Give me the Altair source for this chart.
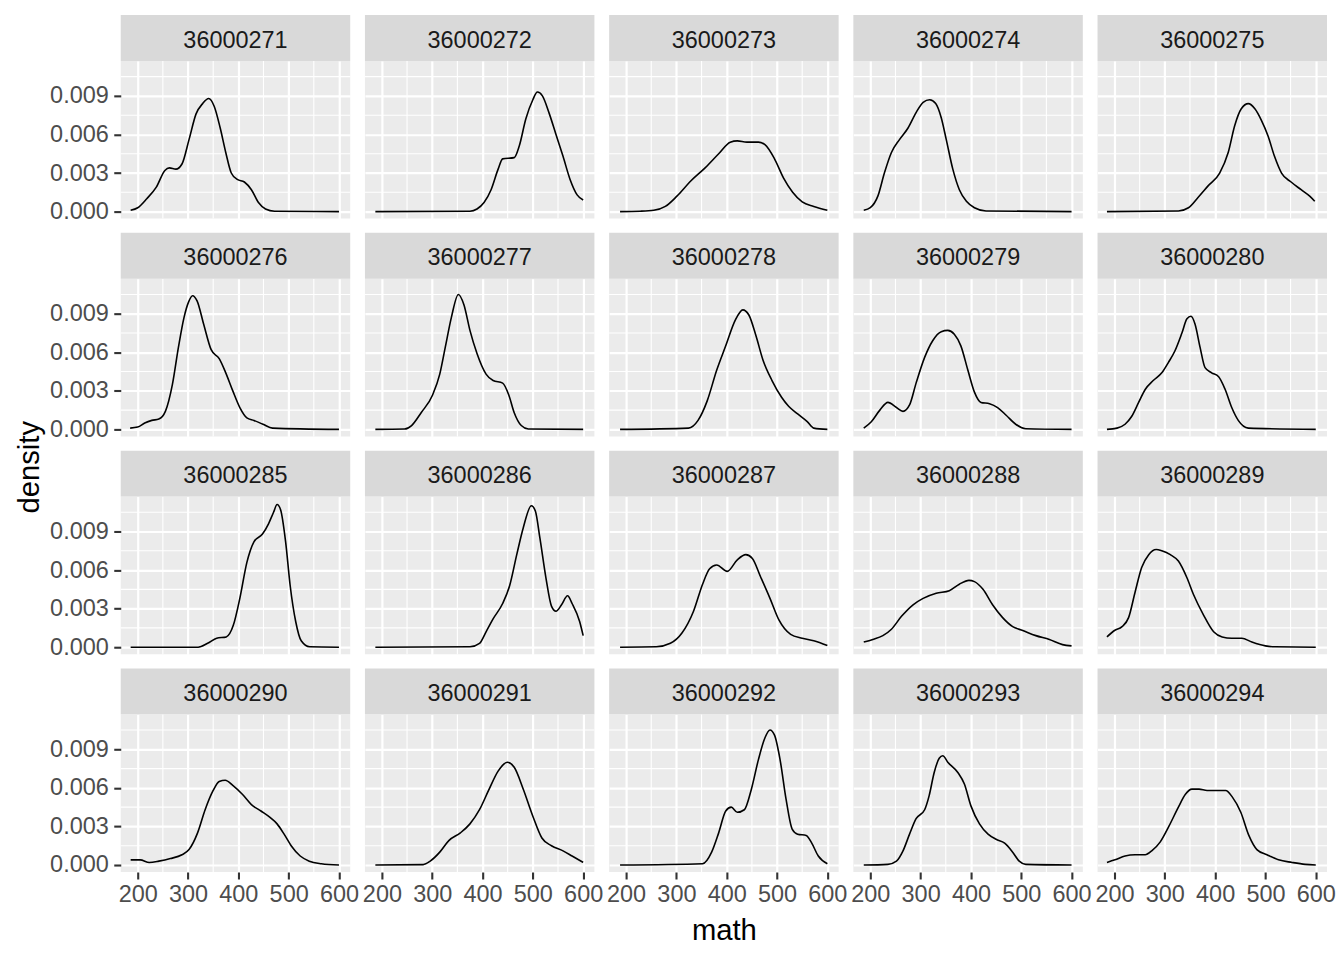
import altair as alt
import pandas as pd

SCHOOLS = ["36000271", "36000272", "36000273", "36000274", "36000275",
           "36000276", "36000277", "36000278", "36000279", "36000280",
           "36000285", "36000286", "36000287", "36000288", "36000289",
           "36000290", "36000291", "36000292", "36000293", "36000294"]

# density curves (math score, density)
X_271 = [186, 200, 218, 237, 254, 263, 276, 288, 302, 316, 329, 341, 352, 364, 375, 386, 398, 412, 426, 440, 454, 472, 600]
D_271 = [0.0001, 0.0003, 0.001, 0.0019, 0.0032, 0.0034, 0.0033, 0.0037, 0.0056, 0.0076, 0.0084, 0.0088, 0.0082, 0.0065, 0.0046, 0.003, 0.0025, 0.0023, 0.0017, 0.0007, 0.0002, 0.00003, 0.0]
X_272 = [187, 375, 389, 403, 417, 431, 440, 463, 473, 486, 500, 509, 519, 532, 546, 560, 574, 588, 600]
D_272 = [0.0, 0.00003, 0.0002, 0.0007, 0.0017, 0.0033, 0.0041, 0.0042, 0.0051, 0.0072, 0.0087, 0.0093, 0.009, 0.0077, 0.006, 0.0043, 0.0025, 0.0013, 0.0009]
X_273 = [188, 228, 255, 278, 301, 329, 357, 384, 407, 421, 440, 463, 476, 495, 513, 531, 550, 573, 600]
D_273 = [0.0, 0.00003, 0.0001, 0.0004, 0.0012, 0.0024, 0.0034, 0.0045, 0.0054, 0.0055, 0.0054, 0.0054, 0.0052, 0.0041, 0.0026, 0.0015, 0.00075, 0.0004, 0.0001]
X_274 = [187, 200, 215, 228, 242, 258, 275, 291, 305, 318, 330, 341, 351, 364, 377, 391, 407, 430, 600]
D_274 = [0.0001, 0.0003, 0.0012, 0.003, 0.0046, 0.0056, 0.0065, 0.0077, 0.0085, 0.0087, 0.0084, 0.0073, 0.0056, 0.0033, 0.0017, 0.0008, 0.0003, 0.00005, 0.0]
X_275 = [185, 327, 347, 366, 386, 409, 426, 439, 452, 466, 479, 492, 505, 518, 532, 551, 571, 588, 598]
D_275 = [0.0, 0.00005, 0.0003, 0.0011, 0.002, 0.003, 0.0046, 0.0067, 0.008, 0.0084, 0.008, 0.0071, 0.0059, 0.0043, 0.003, 0.0023, 0.0017, 0.0012, 0.0008]
X_276 = [185, 200, 214, 228, 242, 255, 269, 281, 292, 301, 309, 318, 331, 346, 362, 375, 389, 403, 417, 431, 449, 468, 600]
D_276 = [0.0001, 0.00018, 0.0005, 0.0007, 0.0008, 0.0014, 0.0035, 0.0064, 0.0087, 0.0099, 0.0104, 0.01, 0.0082, 0.0062, 0.0055, 0.0044, 0.003, 0.0017, 0.0009, 0.0007, 0.0004, 0.0001, 0.0]
X_277 = [187, 245, 259, 278, 301, 315, 326, 338, 352, 363, 375, 389, 407, 421, 440, 452, 463, 477, 491, 600]
D_277 = [0.0, 0.00003, 0.0003, 0.0013, 0.0027, 0.0043, 0.0064, 0.0087, 0.0105, 0.0097, 0.0077, 0.0059, 0.0043, 0.0038, 0.0036, 0.0027, 0.0013, 0.0003, 0.00003, 0.0]
X_278 = [188, 324, 343, 361, 380, 398, 417, 432, 444, 458, 472, 490, 509, 523, 541, 560, 573, 600]
D_278 = [0.0, 0.0001, 0.0007, 0.0022, 0.0046, 0.0065, 0.0085, 0.0093, 0.0089, 0.0073, 0.0054, 0.0038, 0.0025, 0.0018, 0.0012, 0.0006, 0.0001, 0.0]
X_279 = [187, 202, 219, 235, 252, 265, 278, 291, 308, 324, 341, 354, 367, 380, 394, 407, 420, 437, 453, 470, 489, 509, 600]
D_279 = [0.0001, 0.0006, 0.0015, 0.0021, 0.0017, 0.0014, 0.0019, 0.0036, 0.0056, 0.0069, 0.0076, 0.0077, 0.0074, 0.0065, 0.0046, 0.0029, 0.0021, 0.002, 0.0017, 0.0011, 0.0004, 0.00005, 0.0]
X_280 = [185, 205, 221, 234, 248, 261, 277, 294, 307, 320, 334, 344, 352, 360, 370, 380, 393, 407, 420, 433, 446, 466, 600]
D_280 = [0.0, 0.0001, 0.0004, 0.001, 0.0021, 0.0031, 0.0038, 0.0044, 0.0052, 0.0061, 0.0075, 0.0086, 0.0088, 0.0082, 0.0064, 0.0048, 0.0044, 0.0041, 0.0031, 0.0017, 0.0007, 0.0001, 0.0]
X_285 = [186, 320, 339, 357, 376, 390, 403, 417, 431, 448, 460, 470, 477, 484, 494, 503, 514, 525, 542, 600]
D_285 = [0.0, 0.0, 0.0003, 0.0007, 0.0008, 0.0017, 0.0038, 0.0066, 0.0082, 0.0088, 0.0096, 0.0105, 0.0111, 0.0107, 0.0082, 0.0048, 0.002, 0.0005, 0.00003, 0.0]
X_286 = [187, 375, 394, 407, 421, 440, 454, 468, 481, 497, 505, 514, 526, 537, 546, 557, 569, 578, 593, 600]
D_286 = [0.0, 0.00003, 0.0003, 0.0012, 0.0022, 0.0034, 0.0048, 0.0072, 0.0093, 0.011, 0.0106, 0.0085, 0.0054, 0.0032, 0.0028, 0.0033, 0.004, 0.0034, 0.002, 0.0009]
X_287 = [188, 260, 288, 311, 334, 352, 366, 380, 401, 421, 438, 451, 467, 486, 504, 527, 550, 573, 600]
D_287 = [0.0, 0.00003, 0.0003, 0.0011, 0.0028, 0.0049, 0.0061, 0.0064, 0.0059, 0.0068, 0.0072, 0.0069, 0.0055, 0.0038, 0.0021, 0.001, 0.0007, 0.0005, 0.00013]
X_288 = [187, 205, 225, 242, 262, 285, 305, 331, 357, 377, 396, 407, 424, 443, 463, 483, 503, 529, 556, 582, 600]
D_288 = [0.0004, 0.0006, 0.0009, 0.0014, 0.0024, 0.0033, 0.0038, 0.0042, 0.0044, 0.0049, 0.0052, 0.0051, 0.0045, 0.0033, 0.0023, 0.0016, 0.0013, 0.0009, 0.0006, 0.0002, 0.0001]
X_289 = [185, 200, 215, 228, 241, 254, 268, 283, 294, 311, 327, 344, 357, 377, 397, 414, 433, 453, 473, 500, 519, 600]
D_289 = [0.0008, 0.0013, 0.0016, 0.0023, 0.0043, 0.0062, 0.0072, 0.0076, 0.0075, 0.0072, 0.0067, 0.0054, 0.0041, 0.0025, 0.0012, 0.0008, 0.0007, 0.0007, 0.0004, 0.0001, 0.00003, 0.0]
X_290 = [186, 205, 223, 242, 265, 288, 302, 319, 334, 350, 362, 374, 389, 408, 426, 445, 463, 477, 491, 505, 523, 541, 565, 600]
D_290 = [0.0004, 0.0004, 0.0002, 0.0003, 0.0005, 0.0008, 0.0012, 0.0025, 0.0043, 0.0058, 0.0065, 0.0066, 0.0062, 0.0055, 0.0047, 0.0042, 0.0037, 0.0032, 0.0024, 0.0015, 0.0007, 0.0003, 0.0001, 0.0]
X_291 = [187, 282, 296, 315, 333, 356, 375, 394, 412, 431, 449, 463, 481, 500, 518, 537, 560, 578, 600]
D_291 = [0.0, 0.00003, 0.0003, 0.001, 0.0019, 0.0025, 0.0032, 0.0043, 0.0058, 0.0073, 0.008, 0.0076, 0.0059, 0.0038, 0.0021, 0.0015, 0.0011, 0.0007, 0.0002]
X_292 = [188, 352, 370, 384, 398, 409, 421, 435, 449, 463, 476, 486, 495, 506, 518, 530, 541, 558, 569, 582, 600]
D_292 = [0.0, 0.0001, 0.001, 0.0025, 0.0042, 0.0045, 0.0041, 0.0043, 0.0059, 0.0082, 0.0099, 0.0105, 0.0101, 0.0082, 0.0051, 0.0028, 0.0024, 0.0023, 0.0017, 0.0007, 0.0001]
X_293 = [187, 235, 252, 265, 278, 291, 308, 317, 327, 337, 344, 354, 374, 387, 400, 417, 434, 450, 467, 483, 496, 509, 600]
D_293 = [0.0, 0.00005, 0.0003, 0.0011, 0.0024, 0.0036, 0.0043, 0.0054, 0.0072, 0.0083, 0.0085, 0.008, 0.0072, 0.0063, 0.0046, 0.0032, 0.0024, 0.002, 0.0017, 0.001, 0.0003, 0.00005, 0.0]
X_294 = [185, 201, 221, 241, 261, 274, 291, 308, 327, 341, 354, 368, 384, 401, 421, 434, 451, 467, 483, 503, 526, 553, 579, 600]
D_294 = [0.0002, 0.0004, 0.0007, 0.0008, 0.0008, 0.0011, 0.0018, 0.003, 0.0045, 0.0055, 0.0059, 0.0059, 0.0058, 0.0058, 0.0058, 0.0053, 0.0041, 0.0023, 0.0012, 0.0008, 0.0004, 0.0002, 0.00005, 0.0]

CURVES = [(X_271, D_271), (X_272, D_272), (X_273, D_273), (X_274, D_274), (X_275, D_275),
          (X_276, D_276), (X_277, D_277), (X_278, D_278), (X_279, D_279), (X_280, D_280),
          (X_285, D_285), (X_286, D_286), (X_287, D_287), (X_288, D_288), (X_289, D_289),
          (X_290, D_290), (X_291, D_291), (X_292, D_292), (X_293, D_293), (X_294, D_294)]

X_TICKS = [200, 300, 400, 500, 600]
X_MINOR = [250, 350, 450, 550]
Y_TICKS = [0.0, 0.003, 0.006, 0.009]
Y_MINOR = [0.0015, 0.0045, 0.0075, 0.0105]

FONT = "Liberation Sans"
W, H, STRIP = 230, 158, 46
XS = alt.Scale(domain=[166.3, 622.4], nice=False, zero=False)
YS = alt.Scale(domain=[-0.000545, 0.01172], nice=False, zero=False)


def make_axis(values, show, fmt=None, **extra):
    kw = dict(values=values, grid=True, gridColor="white", gridWidth=2.2,
              domain=False, labels=show, ticks=show)
    if show:
        kw.update(labelFont=FONT, labelFontSize=23.5, labelColor="#4D4D4D",
                  tickColor="#333333", tickSize=7, tickWidth=2.1)
    if fmt:
        kw["format"] = fmt
    kw.update(extra)
    return alt.Axis(**kw)


panels = []
for i, (school, (xs, ds)) in enumerate(zip(SCHOOLS, CURVES)):
    col, row = i % 5, i // 5
    left, bottom = col == 0, row == 3
    xextra = {"labelPadding": 4}
    if bottom and col == 2:
        xextra.update(title="math", titleFont=FONT, titleFontSize=29.3,
                      titleColor="black", titleFontWeight="normal",
                      titleX=W / 2, titleY=67.6, titleAlign="center",
                      titleBaseline="alphabetic")
    else:
        xextra["title"] = None
    yextra = {"labelPadding": 5.5}
    if i == 0:
        yextra.update(title="density", titleFont=FONT, titleFontSize=29.3,
                      titleColor="black", titleFontWeight="normal",
                      titleX=-82.7, titleY=406.7, titleAngle=270,
                      titleAlign="center", titleBaseline="alphabetic")
    else:
        yextra["title"] = None
    xaxis = make_axis(X_TICKS, bottom, **xextra)
    yaxis = make_axis(Y_TICKS, left, fmt=".3f", **yextra)

    df = pd.DataFrame({"x": xs, "y": ds})
    line = alt.Chart(df).mark_line(color="black", strokeWidth=1.6, interpolate="monotone").encode(
        x=alt.X("x:Q", scale=XS, axis=xaxis),
        y=alt.Y("y:Q", scale=YS, axis=yaxis),
    )
    xminor = alt.Chart(pd.DataFrame({"x": X_MINOR})).mark_rule(color="white", strokeWidth=1.1).encode(
        x=alt.X("x:Q", scale=XS, axis=xaxis)
    )
    yminor = alt.Chart(pd.DataFrame({"y": Y_MINOR})).mark_rule(color="white", strokeWidth=1.1).encode(
        y=alt.Y("y:Q", scale=YS, axis=yaxis)
    )
    lab = pd.DataFrame({"label": [school]})
    strip = alt.Chart(lab).mark_rect(color="#D9D9D9").encode(
        x=alt.value(0), x2=alt.value(W), y=alt.value(-STRIP), y2=alt.value(0)
    )
    text = alt.Chart(lab).mark_text(font=FONT, fontSize=23.5, color="#1A1A1A",
                                    align="center", baseline="alphabetic").encode(
        text="label:N", x=alt.value(W / 2), y=alt.value(-13.3)
    )
    panels.append(alt.layer(xminor, yminor, line, strip, text).properties(width=W, height=H))

chart = alt.concat(*panels, columns=5, bounds="flush",
                   spacing={"row": 60.3, "column": 14.75}).properties(
    padding={"left": 7, "top": 6, "right": 0, "bottom": 0},
    background="white",
).configure_view(fill="#EBEBEB", strokeWidth=0)

chart.save("out.html", embed_options={"renderer": "svg", "actions": False})
